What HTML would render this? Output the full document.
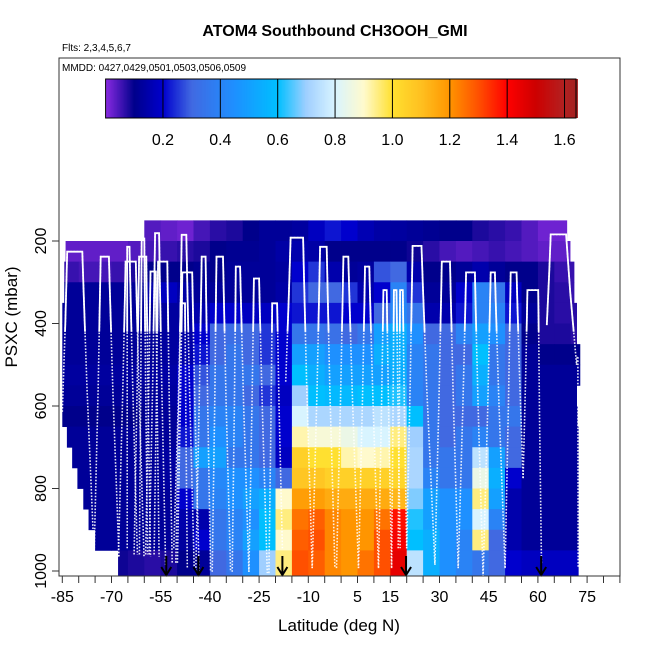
<!DOCTYPE html>
<html><head><meta charset="utf-8">
<style>
html,body{margin:0;padding:0;background:#fff;}
svg{display:block;font-family:"Liberation Sans",Arial,sans-serif;}
</style></head>
<body>
<svg id="chart" width="650" height="650" viewBox="0 0 650 650" xmlns="http://www.w3.org/2000/svg">
<text x="335" y="36" text-anchor="middle" font-size="16" font-weight="bold">ATOM4 Southbound CH3OOH_GMI</text>
<text x="62" y="51" font-size="10">Flts: 2,3,4,5,6,7</text>
<text transform="translate(17,317) rotate(-90)" text-anchor="middle" font-size="17">PSXC (mbar)</text>
<text x="339" y="631" text-anchor="middle" font-size="17">Latitude (deg N)</text>
<g id="heat"></g>
<g id="tracks"></g>
<g id="arrows"></g>
<g id="axes"></g>
<g id="cbar"></g>
<rect x="59" y="58" width="561" height="518" fill="none" stroke="#333" stroke-width="1"/>
<text x="62" y="71" font-size="10">MMDD: 0427,0429,0501,0503,0506,0509</text>
</svg>
<script>
// ---- data ----
const latBins = [-85,-80,-75,-70,-65,-60,-55,-50,-45,-40,-35,-30,-25,-20,-15,-10,-5,0,5,10,15,20,25,30,35,40,45,50,55,60,65,70];
const pTops = [150,200,250,300,350,400,450,500,550,600,650,700,750,800,850,900,950];
const rowLatMin = [-61,-84,-84.4,-84.4,-85,-85,-85,-85,-85,-85,-83.6,-82,-80.4,-78.6,-77,-75,-68];
const rowLatMax = [68.8,69.8,71,71,71.8,71.8,72.8,72.8,71.8,72,72.3,72.3,72.3,72.3,72.3,72.3,72.3];
const n = null;
const row0 = [n,n,n,n,n,0.04,0.03,0.02,0.05,0.07,0.08,0.1,0.12,0.12,0.13,0.18,0.22,0.2,0.16,0.14,0.13,0.12,0.11,0.1,0.1,0.08,0.07,0.06,0.04,0.02,0.02,n];
const row1 = [0.03,0.03,0.03,0.03,0.04,0.05,0.06,0.07,0.08,0.1,0.11,0.11,0.12,0.14,0.15,0.14,0.1,0.1,0.1,0.1,0.1,0.09,0.07,0.05,0.04,0.05,0.06,0.05,0.04,0.03,0.03,n];
const row2 = [0.06,0.05,0.05,0.06,0.08,0.1,0.1,0.1,0.11,0.1,0.12,0.12,0.12,0.13,0.2,0.25,0.15,0.12,0.13,0.28,0.3,0.15,0.1,0.1,0.12,0.15,0.12,0.1,0.1,0.08,0.06,0.06];
const row3 = [0.12,0.12,0.12,0.12,0.12,0.15,0.18,0.14,0.12,0.12,0.12,0.12,0.12,0.14,0.25,0.3,0.3,0.25,0.15,0.2,0.4,0.25,0.12,0.12,0.2,0.4,0.35,0.18,0.1,0.08,0.07,0.06];
const row4 = [0.12,0.12,0.12,0.12,0.12,0.12,0.13,0.13,0.15,0.2,0.2,0.18,0.18,0.2,0.22,0.22,0.22,0.2,0.2,0.3,0.42,0.35,0.15,0.15,0.22,0.4,0.4,0.22,0.12,0.08,0.07,0.07];
const row5 = [0.12,0.12,0.12,0.12,0.12,0.12,0.13,0.14,0.2,0.3,0.32,0.3,0.25,0.2,0.35,0.35,0.33,0.3,0.35,0.5,0.55,0.45,0.3,0.3,0.4,0.5,0.45,0.3,0.1,0.08,0.08,0.07];
const row6 = [0.12,0.12,0.12,0.12,0.12,0.12,0.13,0.15,0.22,0.3,0.35,0.3,0.25,0.2,0.5,0.5,0.45,0.45,0.45,0.55,0.55,0.4,0.35,0.3,0.3,0.6,0.35,0.3,0.12,0.1,0.1,0.1];
const row7 = [0.13,0.13,0.13,0.13,0.13,0.13,0.14,0.2,0.28,0.35,0.35,0.35,0.3,0.2,0.6,0.55,0.5,0.5,0.5,0.5,0.55,0.4,0.35,0.3,0.35,0.55,0.35,0.3,0.12,0.12,0.12,0.12];
const row8 = [0.12,0.12,0.12,0.12,0.12,0.12,0.13,0.2,0.3,0.35,0.35,0.3,0.25,0.18,0.7,0.6,0.58,0.58,0.6,0.6,0.62,0.4,0.35,0.3,0.35,0.5,0.4,0.3,0.12,0.12,0.12,0.12];
const row9 = [0.1,0.1,0.1,0.1,0.1,0.12,0.12,0.2,0.35,0.4,0.4,0.35,0.3,0.2,0.8,0.72,0.72,0.72,0.72,0.75,0.72,0.6,0.35,0.3,0.3,0.3,0.35,0.35,0.12,0.12,0.12,0.12];
const row10 = [0.12,0.12,0.12,0.12,0.12,0.12,0.12,0.22,0.35,0.45,0.4,0.35,0.3,0.2,0.92,0.88,0.88,0.85,0.8,0.8,0.95,0.7,0.35,0.3,0.35,0.4,0.35,0.3,0.12,0.12,0.12,0.12];
const row11 = [0.12,0.12,0.12,0.12,0.12,0.12,0.13,0.3,0.5,0.5,0.35,0.35,0.3,0.18,1.05,1.0,1.0,0.92,0.9,0.92,1.0,0.72,0.35,0.35,0.35,0.75,0.5,0.3,0.12,0.12,0.12,0.12];
const row12 = [0.12,0.12,0.12,0.12,0.12,0.12,0.13,0.3,0.35,0.42,0.45,0.45,0.4,0.3,1.08,1.08,1.05,1.05,1.05,1.05,1.03,0.72,0.4,0.35,0.35,0.85,0.55,0.2,0.12,0.12,0.12,0.12];
const row13 = [0.12,0.12,0.12,0.12,0.12,0.12,0.12,0.2,0.35,0.4,0.45,0.5,0.55,0.9,1.18,1.18,1.15,1.15,1.15,1.15,1.12,0.68,0.5,0.45,0.45,0.95,0.5,0.15,0.12,0.12,0.12,0.12];
const row14 = [0.12,0.12,0.12,0.12,0.12,0.12,0.12,0.15,0.15,0.35,0.4,0.45,0.6,0.95,1.25,1.28,1.22,1.2,1.2,1.25,1.38,0.62,0.5,0.45,0.45,0.8,0.4,0.15,0.12,0.12,0.12,0.12];
const row15 = [0.12,0.12,0.12,0.12,0.12,0.12,0.12,0.13,0.2,0.35,0.4,0.5,0.6,0.9,1.28,1.3,1.22,1.2,1.2,1.3,1.42,0.6,0.55,0.45,0.4,0.95,0.3,0.15,0.12,0.12,0.12,0.12];
const row16 = [n,n,n,0.09,0.08,0.07,0.08,0.1,0.12,0.3,0.35,0.45,0.7,0.95,1.3,1.28,1.22,1.2,1.25,1.3,1.45,0.75,0.55,0.45,0.4,0.35,0.3,0.2,0.18,0.18,0.18,0.18];
const gridRows = [row0,row1,row2,row3,row4,row5,row6,row7,row8,row9,row10,row11,row12,row13,row14,row15,row16];
// flight profiles: [latA, pA, latTopStart, latTopEnd, pTop, latD, pD]
const profiles = [
 [-85,614,-83.5,-78.9,226,-75.3,961],[-75.3,961,-73.3,-70.8,238,-67.7,965],
 [-67.9,965,-65.7,-62.6,250,-60.1,965],[-65.2,945,-65.2,-64.5,214,-62.1,960],
 [-63.1,960,-61.6,-59.4,238,-58.1,965],[-61.5,960,-60.8,-60,194,-59,960],
 [-59.6,960,-58.1,-56.5,274,-55.5,965],[-58.5,960,-56.7,-55.5,181,-53.5,985],
 [-57,960,-55.8,-53,250,-51.5,980],[-50.4,980,-48.6,-47.2,185,-44.8,993],
 [-49.9,980,-48.4,-45.4,276,-43.3,1000],[-51,945,-48.9,-47.6,351,-46.9,993],
 [-44.3,1000,-42.5,-41.3,238,-39.8,1002],[-39.3,1002,-38,-36,238,-33.7,1002],
 [-33.2,1002,-32.1,-30.8,262,-28.1,1002],[-28.1,1002,-26.6,-25,291,-22.5,1005],
 [-22,1005,-21,-19.5,351,-17.9,945],[-16.9,541,-15.4,-11.6,192,-8.8,993],
 [-8.8,993,-6.4,-4.4,214,-1.9,993],[-1.4,993,0.7,2.2,238,5.3,993],
 [5.3,993,7.3,8.6,262,11.4,993],[11.4,993,12.9,13.9,319,15.4,993],
 [15.4,993,16.1,16.9,319,18,945],[17.4,945,18,18.8,319,20,945],
 [20,945,21.8,24.5,212,28.6,985],[28.6,985,30.7,33.2,250,35.7,993],
 [35.7,993,38.1,40.8,276,43.3,1013],[43.3,1013,45.6,46.9,276,50,993],
 [50,993,51.7,53.5,276,55.5,775],[55.5,775,56.8,60.1,319,61.1,985],
 [62.7,404,63.9,68.6,184,71.8,500],[71.8,500,72,72.2,480,72.3,993]
];
const arrowLats = [-53.3,-43.5,-17.9,19.8,61];
const xTicks = [];
for (let v=-85; v<=85; v+=5) xTicks.push(v);
const xLabels = [-85,-70,-55,-40,-25,-10,5,15,30,45,60,75];
const yLabels = [200,400,600,800,1000];
const cbarLabels = [0.2,0.4,0.6,0.8,1.0,1.2,1.4,1.6];
const cbarMax = 1.64;
const cmapVals = [0,0.1,0.2,0.3,0.45,0.6,0.7,0.8,0.9,1.0,1.1,1.2,1.3,1.4,1.5,1.6,1.64];
const cmapCols = ["#8a2be2","#00008b","#0000cd","#4169e1","#1e90ff","#00bfff","#a0cfff","#d8f4ff","#fffacd","#ffe030","#ffc020","#ff9500","#ff5000","#ff0000","#cd0000","#b22222","#a52020"];
// ---- scales ----
const X = lat => 62.3 + (lat + 85) * 3.28;
const Y = p => 241 + (p - 200) * 0.4125;
const CX = v => 105.6 + v / cbarMax * (576 - 105.6);
const NS = "http://www.w3.org/2000/svg";
function hex(c){return [1,3,5].map(i=>parseInt(c.substr(i,2),16));}
function color(v){
  if (v<=cmapVals[0]) return cmapCols[0];
  for (let i=1;i<cmapVals.length;i++){
    if (v<=cmapVals[i]){
      const t=(v-cmapVals[i-1])/(cmapVals[i]-cmapVals[i-1]);
      const a=hex(cmapCols[i-1]), b=hex(cmapCols[i]);
      return "rgb("+a.map((x,k)=>Math.round(x+(b[k]-x)*t)).join(",")+")";
    }
  }
  return cmapCols[cmapCols.length-1];
}
function mk(tag, attrs, parent){
  const e=document.createElementNS(NS,tag);
  for (const k in attrs) e.setAttribute(k,attrs[k]);
  parent.appendChild(e); return e;
}
// ---- heatmap ----
const heat=document.getElementById("heat");
gridRows.forEach((row,r)=>{
  const p0=pTops[r], p1=(r===pTops.length-1)? 1015 : p0+50;
  const y0=Y(p0), y1=Math.min(Y(p1),576);
  row.forEach((v,c)=>{
    if (v===null) return;
    const l0=Math.max(latBins[c],rowLatMin[r]), l1=Math.min(latBins[c]+5,rowLatMax[r]);
    if (l1<=l0) return;
    const e=mk("rect",{x:X(l0).toFixed(2),y:y0.toFixed(2),width:(X(l1)-X(l0)+0.4).toFixed(2),height:(y1-y0+0.4).toFixed(2),fill:color(v)},heat);
    
    
  });
});
// ---- flight tracks ----
const tracks=document.getElementById("tracks");
const defs=mk("defs",{},tracks);
const cp=mk("clipPath",{id:"upper"},defs);
mk("rect",{x:0,y:0,width:650,height:Y(420)},cp);
profiles.forEach(pr=>{
  const [a,pa,b,c,pt,d,pd]=pr;
  const pts=[[a,pa],[a+(b-a)*0.6,pt+(pa-pt)*0.45],[a+(b-a)*0.9,pt+(pa-pt)*0.12],[b,pt],[c,pt],[c+(d-c)*0.1,pt+(pd-pt)*0.12],[c+(d-c)*0.4,pt+(pd-pt)*0.45],[d,pd]];
  const s=pts.map(q=>X(q[0]).toFixed(1)+","+Y(q[1]).toFixed(1)).join(" ");
  const e=mk("polyline",{points:s,fill:"none",stroke:"#fff","stroke-width":1.6,"stroke-dasharray":"1.6 1.6","stroke-opacity":0.9},tracks);
  
  
  const e2=mk("polyline",{points:s,fill:"none",stroke:"#fff","stroke-width":1.8,"clip-path":"url(#upper)"},tracks);
  
  
});
// ---- arrows ----
const arrows=document.getElementById("arrows");
arrowLats.forEach(l=>{
  const x=X(l);
  const g=mk("g",{},arrows);
  
  
  mk("line",{x1:x,y1:556,x2:x,y2:575,stroke:"#000","stroke-width":2},g);
  mk("polyline",{points:(x-5)+",567 "+x+",575 "+(x+5)+",567",fill:"none",stroke:"#000","stroke-width":2},g);
});
// ---- axes ----
const axes=document.getElementById("axes");
xTicks.forEach(v=>{
  const t=mk("line",{x1:X(v),y1:576,x2:X(v),y2:583,stroke:"#333","stroke-width":1},axes);
  
  
});
xLabels.forEach(v=>{
  const t=mk("text",{x:X(v),y:602,"text-anchor":"middle","font-size":16},axes);
  t.textContent=v;
  
  
});
yLabels.forEach(v=>{
  const t=mk("line",{x1:52,y1:Y(v),x2:59,y2:Y(v),stroke:"#333","stroke-width":1},axes);
  
  
  const l=mk("text",{transform:"translate(46,"+Y(v)+") rotate(-90)","text-anchor":"middle","font-size":16},axes);
  l.textContent=v;
  
  
});
// ---- colorbar ----
const cbar=document.getElementById("cbar");
for (let v=0; v<cbarMax; v+=0.005){
  const e=mk("rect",{x:CX(v).toFixed(2),y:79,width:(CX(0.005)-CX(0)+0.5).toFixed(2),height:39,fill:color(v+0.0025)},cbar);
  
  
}
cbarLabels.forEach(v=>{
  const t=mk("line",{x1:CX(v),y1:79,x2:CX(v),y2:118,stroke:"#000","stroke-width":1},cbar);
  
  
  const l=mk("text",{x:CX(v),y:145,"text-anchor":"middle","font-size":16},cbar);
  l.textContent=v.toFixed(1);
  
  
});
const bf=mk("rect",{x:CX(0),y:79,width:CX(cbarMax)-CX(0),height:39,fill:"none",stroke:"#000","stroke-width":1},cbar);


</script>
</body></html>
